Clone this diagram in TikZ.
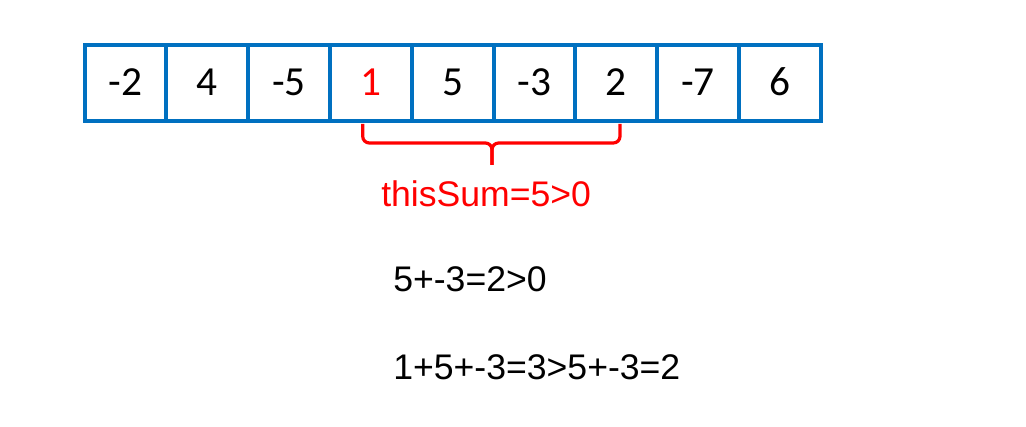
\documentclass[tikz,border=0pt]{standalone}
\usepackage{fontspec}
\setmainfont{Liberation Sans}
\newfontfamily\calfont{Carlito}
\definecolor{cellblue}{RGB}{0,112,192}
\definecolor{pred}{RGB}{255,0,0}
\tikzset{
  cellbox/.style={draw=cellblue, line width=3pt, minimum width=61.35pt, minimum height=56.4pt, inner sep=0pt},
  digit/.style={font=\calfont\fontsize{31}{36}\selectfont, text=black, inner sep=0pt, anchor=base},
  bigtxt/.style={font=\fontsize{26.7}{30}\selectfont, inner sep=0pt, anchor=base west},
  bracepath/.style={draw=pred, line width=2.4pt, rounded corners=5pt}
}
\begin{document}
\begin{tikzpicture}[x=0.75pt,y=-0.75pt]
\useasboundingbox (0,0) rectangle (1026,427);
\foreach \v [count=\i from 0] in {-2,4,-5,1,5,-3,2,-7,6}{
  \node[cellbox] (c\i) at ({84.5+81.8*(\i+0.5)},83.1) {};
  \ifnum\i=3
    \node[digit, text=pred] (d\i) at ({84.5+81.8*(\i+0.5)},95.5) {\v};
  \else
    \node[digit] (d\i) at ({84.5+81.8*(\i+0.5)},95.5) {\v};
  \fi
}
\coordinate (bl) at (362.7,124);
\coordinate (br) at (620,124);
\coordinate (bm) at (492,165);
\draw[bracepath] (bl) -- (bl |- 0,143) -- (bm |- 0,143) -- (bm);
\draw[bracepath] (br) -- (br |- 0,143) -- (bm |- 0,143) -- (bm);
\node[bigtxt, text=pred] (sum) at (381,206.7) {thisSum=5>0};
\node[bigtxt] (l1) at (393,291.7) {5+-3=2>0};
\node[bigtxt] (l2) at (393,380) {1+5+-3=3>5+-3=2};
\end{tikzpicture}
\end{document}
